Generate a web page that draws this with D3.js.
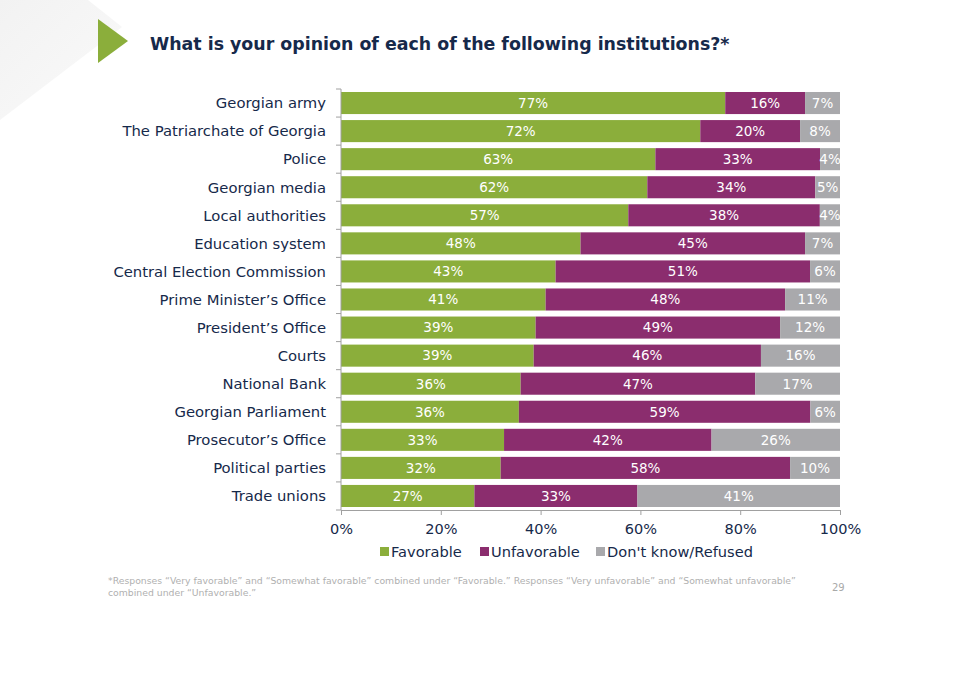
<!DOCTYPE html>
<html><head><meta charset="utf-8">
<script src="https://cdn.jsdelivr.net/npm/d3@7"></script>
<style>body{margin:0;background:#fff}svg{display:block}</style>
</head><body><svg id="c" width="960" height="674"></svg>
<script>
const categories = ["Georgian army","The Patriarchate of Georgia","Police","Georgian media","Local authorities","Education system","Central Election Commission","Prime Minister\u2019s Office","President\u2019s Office","Courts","National Bank","Georgian Parliament","Prosecutor\u2019s Office","Political parties","Trade unions"];
const favorable   = [77,72,63,62,57,48,43,41,39,39,36,36,33,32,27];
const unfavorable = [16,20,33,34,38,45,51,48,49,46,47,59,42,58,33];
const dontKnow    = [7,8,4,5,4,7,6,11,12,16,17,6,26,10,41];
const seriesKeys = ["Favorable","Unfavorable","Don't know/Refused"];
const seriesColors = ["#8bae3b","#8b2d6e","#a9a9ac"];
const xTicks = [0,20,40,60,80,100];
const title = "What is your opinion of each of the following institutions?*";
const footnote = ["*Responses \u201cVery favorable\u201d and \u201cSomewhat favorable\u201d combined under \u201cFavorable.\u201d Responses \u201cVery unfavorable\u201d and \u201cSomewhat unfavorable\u201d",
                  "combined under \u201cUnfavorable.\u201d"];
const pageNumber = "29";

const FONT = "'DejaVu Sans', sans-serif";
const svg = d3.select("#c");
const rows = categories.map((c,i)=>({cat:c, "Favorable":favorable[i], "Unfavorable":unfavorable[i], "Don't know/Refused":dontKnow[i]}));

// slide decoration
const grad = svg.append("defs").append("linearGradient").attr("id","bg").attr("x1","0").attr("y1","0").attr("x2","1").attr("y2","1");
grad.append("stop").attr("offset","0").attr("stop-color","#f2f2f2");
grad.append("stop").attr("offset","1").attr("stop-color","#fafafa");
svg.append("polygon").attr("points","0,0 88,0 122,27 0,120").attr("fill","url(#bg)");
svg.append("polygon").attr("points","98,19 128,41 98,63").attr("fill","#8bae3b");

svg.append("text").attr("x",150).attr("y",50).attr("font-family",FONT).attr("font-weight","bold")
  .attr("font-size",17.4).attr("fill","#16294a").text(title);

const x = d3.scaleLinear().domain([0,1]).range([341,840]);
const xPct = d3.scaleLinear().domain([0,100]).range([341,840]);
const y = d3.scaleBand().domain(categories).range([89,510]).paddingInner(0.214).paddingOuter(0.107);

const stack = d3.stack().keys(seriesKeys).offset(d3.stackOffsetExpand);
const series = stack(rows);

const g = svg.append("g");
series.forEach((s,si)=>{
  const grp = g.append("g").attr("fill",seriesColors[si]);
  grp.selectAll("rect").data(s).join("rect")
    .attr("x",d=>x(d[0])).attr("width",d=>x(d[1])-x(d[0]))
    .attr("y",d=>y(d.data.cat)).attr("height",y.bandwidth());
  g.append("g").selectAll("text").data(s).join("text")
    .attr("x",d=>(x(d[0])+x(d[1]))/2).attr("y",d=>y(d.data.cat)+y.bandwidth()/2)
    .attr("dy","0.36em").attr("text-anchor","middle").attr("font-family",FONT)
    .attr("font-size",13.5).attr("fill","#fff")
    .text(d=>d.data[s.key]+"%");
});

// category axis
const axisCol = "#a0a0a0";
const step = y.step();
svg.append("line").attr("x1",341).attr("x2",341).attr("y1",89).attr("y2",510).attr("stroke",axisCol);
const bounds = d3.range(categories.length+1).map(i=>89+i*step);
svg.append("g").selectAll("line").data(bounds).join("line")
  .attr("x1",336).attr("x2",341).attr("y1",d=>d).attr("y2",d=>d).attr("stroke",axisCol);
svg.append("g").selectAll("text").data(categories).join("text")
  .attr("x",326).attr("y",d=>y(d)+y.bandwidth()/2).attr("dy","0.36em").attr("text-anchor","end")
  .attr("font-family",FONT).attr("font-size",14.8).attr("fill","#16294a").text(d=>d);

// x axis
const xa = svg.append("g").attr("transform","translate(0,510)")
  .call(d3.axisBottom(xPct).tickValues(xTicks).tickSize(5).tickSizeOuter(0).tickFormat(d=>d+"%"));
xa.select(".domain").attr("stroke",axisCol);
xa.selectAll(".tick line").attr("stroke",axisCol);
xa.selectAll(".tick text").attr("font-family",FONT).attr("font-size",14.5).attr("fill","#16294a").attr("y",14);

// legend
const legX = [380,480,596];
const leg = svg.append("g");
seriesKeys.forEach((k,i)=>{
  leg.append("rect").attr("x",legX[i]).attr("y",547).attr("width",9).attr("height",9).attr("fill",seriesColors[i]);
  leg.append("text").attr("x",legX[i]+11).attr("y",552).attr("dy","0.36em").attr("font-family",FONT)
    .attr("font-size",14.6).attr("fill","#16294a").text(k);
});

// footnote
svg.append("g").selectAll("text").data(footnote).join("text")
  .attr("x",108).attr("y",(d,i)=>584+i*12).attr("font-family",FONT).attr("font-size",9.3)
  .attr("fill","#b0b0b0").text(d=>d);
svg.append("text").attr("x",832).attr("y",591).attr("font-family",FONT).attr("font-size",10)
  .attr("fill","#a9a9a9").text(pageNumber);
</script></body></html>
